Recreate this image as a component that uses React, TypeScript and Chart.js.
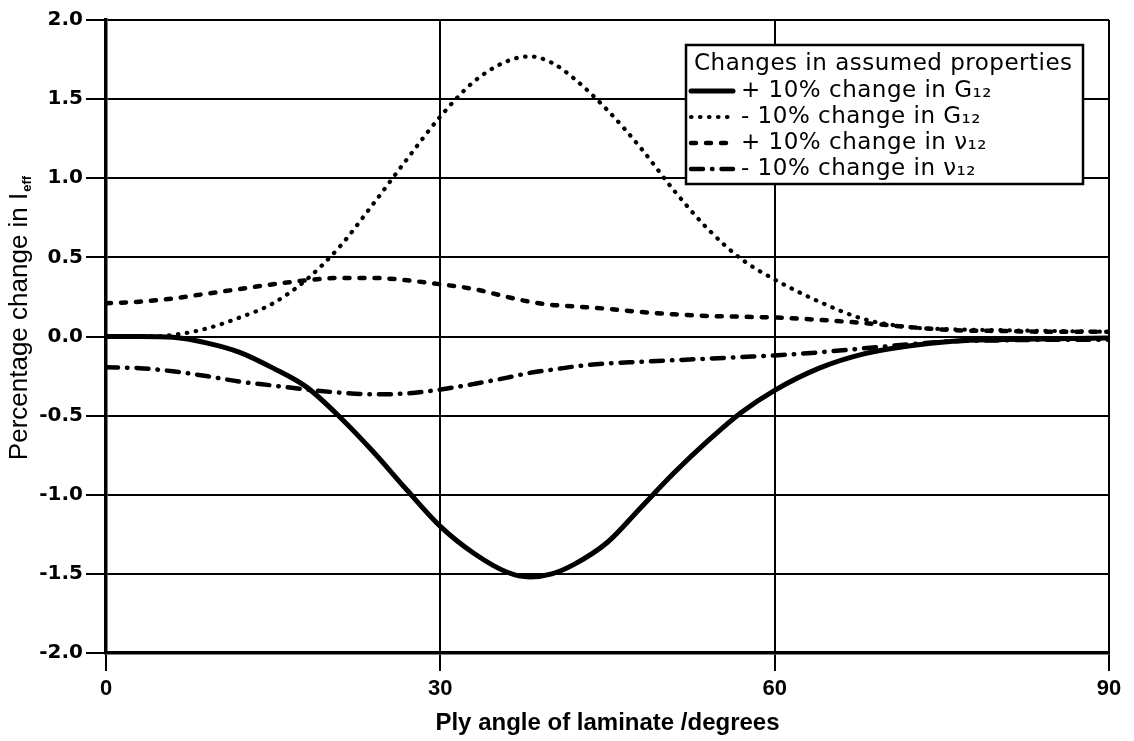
import React, { useEffect, useRef } from "react";
import { Chart, registerables } from "chart.js";

Chart.register(...registerables);

// Ply angle (degrees)
const angles = [0, 3, 6, 9, 12, 15, 18, 21, 24, 27, 30, 33, 36, 38, 40, 42, 45, 48, 51, 54, 57, 60, 64, 68, 72, 76, 80, 85, 90];

// + 10% change in G12
const plusG12 = [0, 0, -0.005, -0.04, -0.1, -0.2, -0.32, -0.51, -0.73, -0.97, -1.2, -1.37, -1.49, -1.52, -1.5, -1.44, -1.3, -1.08, -0.86, -0.66, -0.48, -0.34, -0.2, -0.11, -0.06, -0.03, -0.02, -0.015, -0.01];

// - 10% change in G12
const minusG12 = [0, 0, 0.01, 0.05, 0.12, 0.21, 0.36, 0.57, 0.84, 1.12, 1.39, 1.61, 1.74, 1.77, 1.73, 1.63, 1.43, 1.19, 0.92, 0.68, 0.49, 0.36, 0.22, 0.11, 0.06, 0.045, 0.04, 0.035, 0.03];

// + 10% change in nu12
const plusNu12 = [0.21, 0.22, 0.24, 0.27, 0.3, 0.33, 0.355, 0.37, 0.37, 0.355, 0.33, 0.3, 0.25, 0.22, 0.2, 0.19, 0.175, 0.155, 0.14, 0.13, 0.125, 0.12, 0.105, 0.085, 0.06, 0.04, 0.035, 0.03, 0.03];

// - 10% change in nu12
const minusNu12 = [-0.195, -0.2, -0.22, -0.25, -0.285, -0.31, -0.335, -0.355, -0.365, -0.36, -0.335, -0.3, -0.26, -0.23, -0.21, -0.19, -0.17, -0.16, -0.15, -0.14, -0.13, -0.12, -0.1, -0.075, -0.05, -0.03, -0.025, -0.02, -0.02];

const seriesLabels = [
  "+ 10% change in G\u2081\u2082",
  "- 10% change in G\u2081\u2082",
  "+ 10% change in \u03BD\u2081\u2082",
  "- 10% change in \u03BD\u2081\u2082",
];
const legendTitle = "Changes in assumed properties";
const xTitle = "Ply angle of laminate /degrees";
const yTitleMain = "Percentage change in I";
const yTitleSub = "eff";
const xMin = 0;
const xMax = 90;
const xStep = 30;
const yMin = -2;
const yMax = 2;
const yStep = 0.5;

const seriesValues = [plusG12, minusG12, plusNu12, minusNu12];
const seriesDash: number[][] = [[], [0.5, 8.5], [5, 10], [12, 9, 0.5, 9]];
const seriesWidth = [5, 4.2, 4.5, 4.5];

const SANS = "'Liberation Sans', Arial, sans-serif";

const legendPlugin = {
  id: "customLegend",
  afterDraw(chart: any) {
    const ctx = chart.ctx as CanvasRenderingContext2D;
    const left = 686;
    const top = 45;
    const right = 1083;
    const bottom = 184;
    ctx.save();
    ctx.fillStyle = "#ffffff";
    ctx.fillRect(left, top, right - left, bottom - top);
    ctx.lineWidth = 2.5;
    ctx.strokeStyle = "#000";
    ctx.strokeRect(left, top, right - left, bottom - top);
    ctx.fillStyle = "#000";
    ctx.font = "23px 'DejaVu Sans'";
    (ctx as any).letterSpacing = "0.5px";
    ctx.textBaseline = "middle";
    ctx.textAlign = "left";
    ctx.fillText(legendTitle, 694, 64);
    const rows = [91, 117, 143, 169];
    chart.data.datasets.forEach((ds: any, i: number) => {
      const y = rows[i];
      ctx.save();
      ctx.beginPath();
      ctx.lineWidth = ds.borderWidth;
      ctx.lineCap = "round";
      ctx.setLineDash(ds.borderDash || []);
      ctx.moveTo(691, y);
      ctx.lineTo(733, y);
      ctx.stroke();
      ctx.restore();
      ctx.fillText(ds.label, 741, y);
    });
    ctx.restore();
  },
};

const yTitlePlugin = {
  id: "yTitle",
  afterDraw(chart: any) {
    const ctx = chart.ctx as CanvasRenderingContext2D;
    const area = chart.chartArea;
    ctx.save();
    ctx.translate(20, (area.top + area.bottom) / 2 - 18);
    ctx.rotate(-Math.PI / 2);
    ctx.fillStyle = "#000";
    ctx.textBaseline = "middle";
    ctx.textAlign = "left";
    const mainFont = `26px ${SANS}`;
    const subFont = `bold 13px ${SANS}`;
    ctx.font = mainFont;
    const w1 = ctx.measureText(yTitleMain).width;
    ctx.font = subFont;
    const w2 = ctx.measureText(yTitleSub).width;
    const start = -(w1 + w2) / 2;
    ctx.font = mainFont;
    ctx.fillText(yTitleMain, start, 0);
    ctx.font = subFont;
    ctx.fillText(yTitleSub, start + w1 + 1, 7);
    ctx.restore();
  },
};

export default function App() {
  const canvasRef = useRef<HTMLCanvasElement | null>(null);

  useEffect(() => {
    document.body.style.margin = "0";
    const canvas = canvasRef.current;
    if (!canvas) return;
    const datasets = seriesValues.map((vals, i) => ({
      label: seriesLabels[i],
      data: angles.map((a, j) => ({ x: a, y: vals[j] })),
      borderColor: "#000",
      backgroundColor: "#000",
      borderWidth: seriesWidth[i],
      borderDash: seriesDash[i],
      borderCapStyle: "round" as const,
      borderJoinStyle: "round" as const,
      pointRadius: 0,
      cubicInterpolationMode: "monotone" as const,
      fill: false,
    }));
    const chart = new Chart(canvas, {
      type: "line",
      data: { datasets },
      options: {
        responsive: false,
        animation: false,
        devicePixelRatio: 1,
        layout: { padding: { left: 0, right: 25, top: 20, bottom: 0 } },
        plugins: {
          legend: { display: false },
          tooltip: { enabled: false },
        },
        scales: {
          x: {
            type: "linear",
            min: xMin,
            max: xMax,
            ticks: {
              stepSize: xStep,
              color: "#000",
              font: { family: SANS, size: 22, weight: "bold" },
              padding: 5,
              maxRotation: 0,
            },
            grid: { color: "#000", lineWidth: 2, tickLength: 18, drawTicks: true },
            border: { display: true, color: "#000", width: 3.5 },
            title: {
              display: true,
              text: xTitle,
              color: "#000",
              font: { family: SANS, size: 24, weight: "bold" },
              padding: { top: 0, bottom: 3 },
            },
            afterFit: (s: any) => {
              s.height = 88;
            },
          },
          y: {
            type: "linear",
            min: yMin,
            max: yMax,
            ticks: {
              stepSize: yStep,
              color: "#000",
              font: { family: "'DejaVu Sans'", size: 20, weight: "bold" },
              padding: 3,
              callback: (v: any) => Number(v).toFixed(1),
            },
            grid: { color: "#000", lineWidth: 2, tickLength: 20, drawTicks: true },
            border: { display: true, color: "#000", width: 3.5 },
            afterFit: (s: any) => {
              s.width = 106;
            },
          },
        },
      },
      plugins: [legendPlugin, yTitlePlugin],
    });
    return () => chart.destroy();
  }, []);

  return (
    <div style={{ width: 1134, height: 741, background: "#fff" }}>
      <canvas ref={canvasRef} width={1134} height={741} style={{ display: "block" }} />
    </div>
  );
}
